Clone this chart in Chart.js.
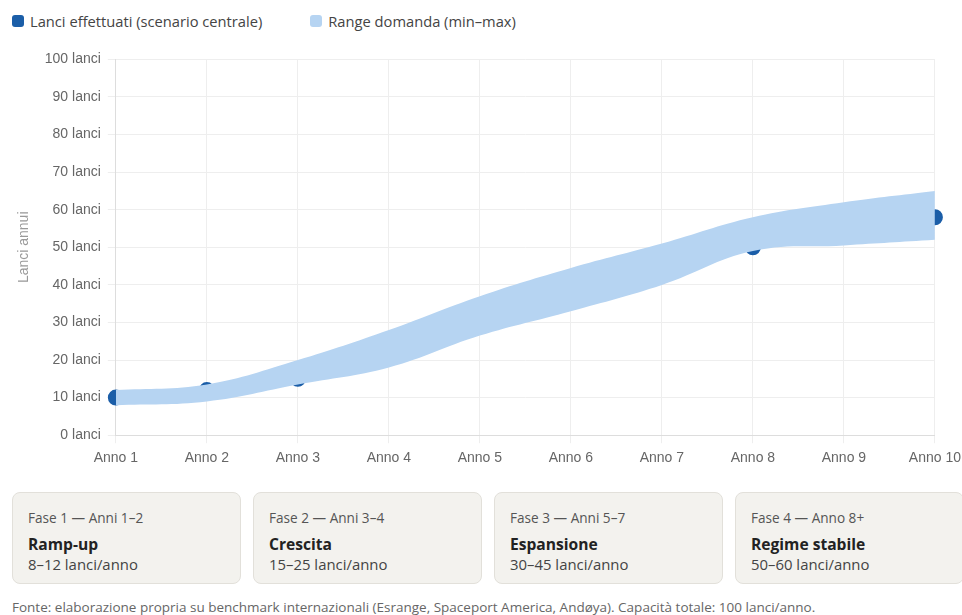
<!DOCTYPE html>
<html lang="it">
<head>
<meta charset="utf-8">
<script src="https://cdn.jsdelivr.net/npm/chart.js@4.4.1/dist/chart.umd.min.js"></script>
<style>
  html, body { margin: 0; padding: 0; background: #fff; overflow: hidden; }
  body { width: 962px; height: 615px; position: relative; font-family: "Open Sans", "Noto Sans", sans-serif; }
  .legend { position: absolute; left: 12px; top: 11px; display: flex; font-size: 14.7px; color: #444; }
  .legend span { display: flex; align-items: center; margin-right: 48px; }
  .legend i { display: inline-block; width: 12px; height: 12px; border-radius: 3px; margin-right: 6px; }
  .wrap { position: absolute; left: 12px; top: 44px; width: 956px; height: 430px; }
  .cards { position: absolute; left: 12px; top: 492px; width: 952px; display: grid; grid-template-columns: repeat(4, 1fr); gap: 12px; }
  .card { background: #f3f2ee; border: 1px solid #e2e0da; border-radius: 8px; height: 92px; box-sizing: border-box; padding: 15px 15px 0; }
  .card .k { font-size: 13.6px; color: #555; }
  .card .t { font-size: 15.6px; font-weight: 700; color: #222; margin-top: 6px; }
  .card .v { font-size: 14.9px; color: #444; margin-top: -1px; }
  .src { position: absolute; left: 12px; top: 598px; font-size: 13.5px; color: #666; white-space: nowrap; }
</style>
</head>
<body>
<div class="legend">
  <span><i style="background:#1b5ea8"></i>Lanci effettuati (scenario centrale)</span>
  <span><i style="background:#b6d4f2"></i>Range domanda (min–max)</span>
</div>
<div class="wrap"><canvas id="chart"></canvas></div>
<div class="cards">
  <div class="card"><div class="k">Fase 1 — Anni 1–2</div><div class="t">Ramp-up</div><div class="v">8–12 lanci/anno</div></div>
  <div class="card"><div class="k">Fase 2 — Anni 3–4</div><div class="t">Crescita</div><div class="v">15–25 lanci/anno</div></div>
  <div class="card"><div class="k">Fase 3 — Anni 5–7</div><div class="t">Espansione</div><div class="v">30–45 lanci/anno</div></div>
  <div class="card"><div class="k">Fase 4 — Anno 8+</div><div class="t">Regime stabile</div><div class="v">50–60 lanci/anno</div></div>
</div>
<div class="src">Fonte: elaborazione propria su benchmark internazionali (Esrange, Spaceport America, Andøya). Capacità totale: 100 lanci/anno.</div>

<script>
// anni di operatività
const anni = ['Anno 1', 'Anno 2', 'Anno 3', 'Anno 4', 'Anno 5', 'Anno 6', 'Anno 7', 'Anno 8', 'Anno 9', 'Anno 10']

// scenario centrale (lanci/anno)
const lanciCentrale = [10, 12, 15, 22, 32, 38, 45, 50, 55, 58]

// range domanda
const domandaMax = [12, 13.5, 20, 28, 37, 44.5, 51, 58, 62, 65]
const domandaMin = [8, 9, 13.5, 18, 26.5, 33, 40, 49, 50.5, 52]

const blu = '#1b5ea8'
const azzurro = '#b6d4f2'

Chart.defaults.font.family = "'Liberation Sans', Arial, sans-serif"
Chart.defaults.font.size = 14
Chart.defaults.color = '#666'

const data = {
    labels: anni,
    datasets: [
        {
            label: 'Lanci effettuati (scenario centrale)',
            data: lanciCentrale,
            borderColor: blu,
            backgroundColor: blu,
            borderWidth: 3,
            pointRadius: 7,
            pointBorderWidth: 2,
            tension: 0.4,
            fill: false,
            order: 1
        },
        {
            label: 'Range domanda (max)',
            data: domandaMax,
            borderWidth: 0,
            borderColor: azzurro,
            backgroundColor: azzurro,
            pointRadius: 0,
            tension: 0.4,
            fill: '+1',
            order: 0
        },
        {
            label: 'Range domanda (min)',
            data: domandaMin,
            borderWidth: 0,
            borderColor: azzurro,
            backgroundColor: azzurro,
            pointRadius: 0,
            tension: 0.4,
            fill: false,
            order: 0
        }
    ]
}

const options = {
    responsive: true,
    maintainAspectRatio: false,
    animation: false,
    layout: { padding: { top: 0, bottom: 0 } },
    plugins: {
        legend: { display: false },
        tooltip: { enabled: false },
        // the band is painted over the central line, as in the original
        filler: { drawTime: 'beforeDatasetDraw' }
    },
    scales: {
        x: {
            grid: { color: '#eeeeee' },
            border: { color: '#dddddd' },
            ticks: { padding: 7 }
        },
        y: {
            min: 0,
            max: 100,
            ticks: { stepSize: 10, padding: 7, callback: v => v + ' lanci' },
            grid: { color: '#eeeeee' },
            border: { color: '#dddddd' },
            title: { display: true, text: 'Lanci annui', color: '#999', padding: { top: 4, bottom: 5 } }
        }
    }
}

new Chart('chart', { type: 'line', data, options })
</script>
</body>
</html>
